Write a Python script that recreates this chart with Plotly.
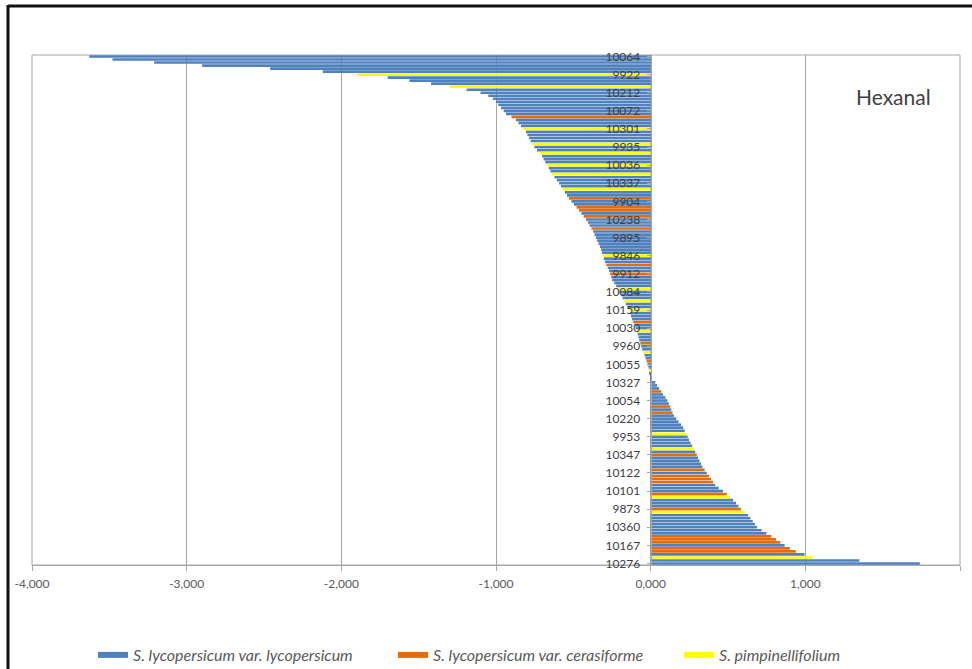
import plotly.graph_objects as go

# Hexanal values per accession, sorted (top row first)
values = [
    -3.63, -3.48, -3.21, -2.90, -2.46, -2.12, -1.90, -1.70, -1.56, -1.42,
    -1.30, -1.19, -1.10, -1.05, -1.02, -1.000, -0.985, -0.968, -0.950, -0.935,
    -0.900, -0.871, -0.855, -0.838, -0.822, -0.806, -0.797, -0.786, -0.776, -0.767,
    -0.752, -0.735, -0.718, -0.702, -0.692, -0.681, -0.670, -0.659, -0.648, -0.637,
    -0.622, -0.607, -0.592, -0.580, -0.567, -0.554, -0.541, -0.528, -0.512, -0.496,
    -0.479, -0.463, -0.448, -0.433, -0.418, -0.406, -0.395, -0.383, -0.372, -0.363,
    -0.354, -0.346, -0.337, -0.328, -0.320, -0.315, -0.309, -0.303, -0.296, -0.287,
    -0.278, -0.269, -0.262, -0.255, -0.249, -0.236, -0.223, -0.210, -0.200, -0.191,
    -0.181, -0.172, -0.161, -0.150, -0.139, -0.133, -0.127, -0.121, -0.113, -0.105,
    -0.097, -0.090, -0.084, -0.078, -0.074, -0.067, -0.061, -0.055, -0.048, -0.040,
    -0.032, -0.026, -0.020, -0.014, -0.010, -0.005, -0.002, 0.008, 0.030, 0.042,
    0.055, 0.068, 0.080, 0.096, 0.108, 0.117, 0.126, 0.133, 0.141, 0.150,
    0.165, 0.180, 0.196, 0.210, 0.220, 0.230, 0.239, 0.248, 0.258, 0.268,
    0.278, 0.288, 0.298, 0.306, 0.316, 0.326, 0.335, 0.349, 0.363, 0.377,
    0.390, 0.404, 0.417, 0.440, 0.468, 0.492, 0.512, 0.533, 0.552, 0.568,
    0.584, 0.607, 0.630, 0.645, 0.660, 0.674, 0.688, 0.718, 0.748, 0.780,
    0.810, 0.838, 0.866, 0.900, 0.938, 0.995, 1.045, 1.350, 1.740,
]

# Species code per accession: L = var. lycopersicum, C = var. cerasiforme, P = pimpinellifolium
species = list(
    "LLLLLLPLLL"  # 0-9
    "PLLLLLLLLL"  # 10-19
    "CLLLPLLLLP"  # 20-29
    "LLPLLLPLLP"  # 30-39
    "LLLLPLLCLL"  # 40-49
    "CCLCLLLCLL"  # 50-59
    "LLLLLLPLLC"  # 60-69
    "LLCLLLLPLL"  # 70-79
    "LPLLPLLLCL"  # 80-89
    "LPLLLCLLPL"  # 90-99
    "LCLLPLLLLL"  # 100-109
    "LCLLLLCLCL"  # 110-119
    "LLLLLPLLLL"  # 120-129
    "PLCLLLLCLC"  # 130-139
    "CCLLLCPLLL"  # 140-149
    "CPLLLLLLLC"  # 150-159
    "CCLCCLPLL"   # 160-168
)

# Accession labels shown on the axis (every 6th row, top to bottom)
tick_labels = ["10064", "9922", "10212", "10072", "10301", "9935", "10036", "10337",
               "9904", "10238", "9895", "9846", "9912", "10084", "10159", "10030",
               "9960", "10055", "10327", "10054", "10220", "9953", "10347", "10122",
               "10101", "9873", "10360", "10167", "10276"]

x_tick_values = [-4, -3, -2, -1, 0, 1, 2]
x_tick_labels = ["-4,000", "-3,000", "-2,000", "-1,000", "0,000", "1,000", "2,000"]

series_order = ["L", "C", "P"]
series_names = {
    "L": "<i>S. lycopersicum var. lycopersicum</i>",
    "C": "<i>S. lycopersicum var. cerasiforme</i>",
    "P": "<i>S. pimpinellifolium</i>",
}
series_colors = {"L": "#4F81BD", "C": "#E46C0A", "P": "#FFFF00"}

rows = list(range(len(values)))
label_step = 6

W, H = 972, 669
ml, mr, mt, mb = 32, 12, 55, 104
pw = W - ml - mr
ph = H - mt - mb
xmin, xmax = -4, 2
zero_pos = (0 - xmin) / (xmax - xmin)
font_family = "Lato, 'Open Sans', Arial, sans-serif"

legend_ids = {"L": "legend", "C": "legend2", "P": "legend3"}
legend_px = {"L": 93, "C": 393, "P": 679}

fig = go.Figure()
for code in series_order:
    idx = [i for i in rows if species[i] == code]
    fig.add_trace(go.Bar(
        x=[values[i] for i in idx], y=idx, orientation="h", width=0.88,
        marker=dict(color=series_colors[code], line=dict(width=0)),
        showlegend=False, hoverinfo="x+y",
    ))
for code in series_order:
    fig.add_trace(go.Scatter(
        x=[None], y=[None], mode="lines", name=series_names[code],
        line=dict(color=series_colors[code], width=6), showlegend=True,
        legend=legend_ids[code],
    ))

legend_common = dict(
    orientation="h", xref="container", yref="container",
    xanchor="left", y=1 - 655 / H, yanchor="middle",
    font=dict(size=16, color="#595959"), itemwidth=30,
    bgcolor="rgba(0,0,0,0)",
)

fig.update_layout(
    width=W, height=H,
    margin=dict(l=ml, r=mr, t=mt, b=mb),
    paper_bgcolor="white", plot_bgcolor="white",
    barmode="overlay",
    font=dict(family=font_family, color="#595959", size=12),
    xaxis=dict(
        range=[xmin, xmax], tickmode="array",
        tickvals=x_tick_values, ticktext=x_tick_labels,
        showgrid=True, gridcolor="#A6A6A6", gridwidth=1,
        zeroline=False, showline=True, linecolor="#A6A6A6", linewidth=1,
        ticks="outside", ticklen=5, tickcolor="#A6A6A6",
        ticklabelstandoff=3,
        tickfont=dict(size=12, color="#595959"),
        fixedrange=True,
    ),
    yaxis=dict(
        range=[len(values) - 0.5, -0.5],
        anchor="free", position=zero_pos,
        tickmode="array", tickvals=rows[::label_step], ticktext=tick_labels,
        showgrid=False, zeroline=False,
        showline=True, linecolor="#A6A6A6", linewidth=1,
        ticks="outside", ticklen=4, tickcolor="#A6A6A6",
        ticklabelstandoff=4,
        tickfont=dict(size=12, color="#404040"),
        fixedrange=True,
    ),
    legend=dict(legend_common, x=legend_px["L"] / W),
    legend2=dict(legend_common, x=legend_px["C"] / W),
    legend3=dict(legend_common, x=legend_px["P"] / W),
    annotations=[dict(
        text="Hexanal", xref="paper", yref="paper",
        x=(893 - ml) / pw, y=1 - (96 - mt) / ph,
        xanchor="center", yanchor="middle",
        showarrow=False, font=dict(size=21, color="#404040"),
    )],
    shapes=[
        dict(type="rect", xref="paper", yref="paper", x0=0, x1=1, y0=0, y1=1,
             line=dict(color="#A6A6A6", width=1), layer="below"),
        dict(type="line", xref="paper", yref="paper",
             x0=(8 - ml) / pw, x1=(W + 5 - ml) / pw,
             y0=1 + (mt - 6) / ph, y1=1 + (mt - 6) / ph,
             line=dict(color="#111111", width=3)),
        dict(type="line", xref="paper", yref="paper",
             x0=(8 - ml) / pw, x1=(8 - ml) / pw,
             y0=1 + (mt - 5) / ph, y1=-(mb + 5) / ph,
             line=dict(color="#111111", width=3)),
    ],
)

fig.write_html("out.html")
